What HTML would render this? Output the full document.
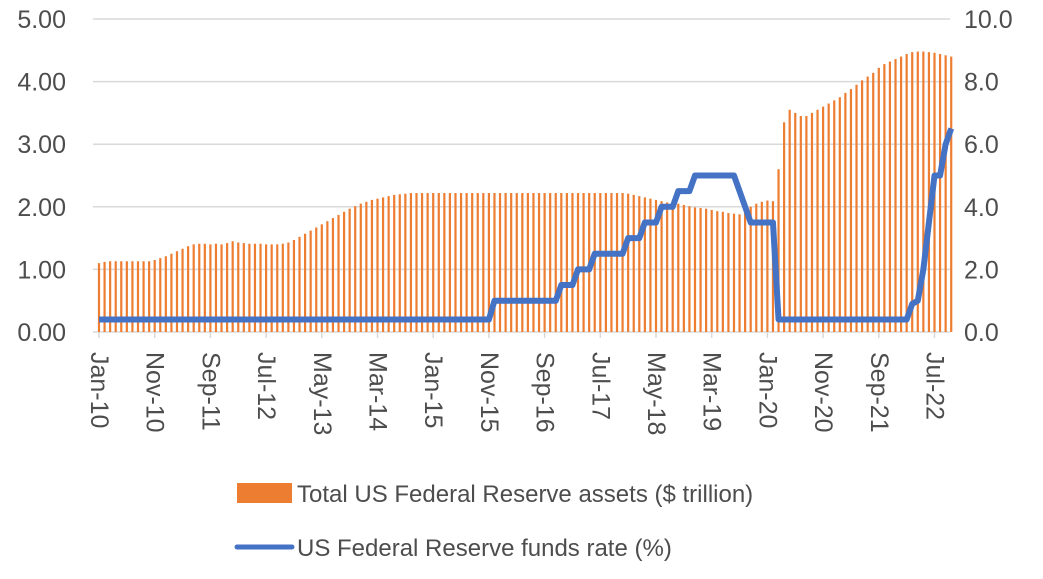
<!DOCTYPE html>
<html><head><meta charset="utf-8"><style>
body{margin:0;background:#fff;}
svg text{font-family:"Liberation Sans",sans-serif;fill:#4d4d4d;}
</style></head><body>
<svg id="chart" width="1043" height="574" viewBox="0 0 1043 574" xmlns="http://www.w3.org/2000/svg">
<g id="grid"></g><g id="bars"></g><g id="line"></g><g id="axes"></g>
<g>
<rect x="237" y="483" width="55" height="20" fill="#ED7D31"/>
<text x="297" y="502" font-size="24">Total US Federal Reserve assets ($ trillion)</text>
<line x1="237" y1="547" x2="292" y2="547" stroke="#4472C4" stroke-width="5" stroke-linecap="round"/>
<text x="297" y="556" font-size="24">US Federal Reserve funds rate (%)</text>
</g>
</svg>
<script>
const assets=[1.10,1.12,1.13,1.13,1.13,1.13,1.13,1.13,1.13,1.13,1.15,1.18,
1.21,1.25,1.29,1.33,1.37,1.40,1.41,1.41,1.40,1.41,1.40,1.42,
1.45,1.43,1.42,1.41,1.41,1.41,1.40,1.40,1.40,1.41,1.43,1.47,
1.52,1.57,1.62,1.67,1.72,1.77,1.82,1.87,1.92,1.97,2.01,2.05,
2.08,2.11,2.13,2.15,2.17,2.19,2.20,2.21,2.22,2.22,2.22,2.22,
2.22,2.22,2.22,2.22,2.22,2.22,2.22,2.22,2.22,2.22,2.22,2.22,
2.22,2.22,2.22,2.22,2.22,2.22,2.22,2.22,2.22,2.22,2.22,2.22,
2.22,2.22,2.22,2.22,2.22,2.22,2.22,2.22,2.22,2.22,2.22,2.21,
2.19,2.17,2.15,2.13,2.11,2.09,2.07,2.06,2.05,2.03,2.01,1.99,
1.98,1.97,1.95,1.93,1.92,1.90,1.89,1.88,1.93,2.00,2.05,2.08,
2.10,2.09,2.60,3.35,3.55,3.50,3.45,3.45,3.50,3.55,3.60,3.65,
3.70,3.75,3.82,3.88,3.95,4.02,4.08,4.14,4.22,4.28,4.32,4.36,
4.40,4.44,4.47,4.48,4.48,4.47,4.46,4.44,4.42,4.40];
const rateSteps=[[0,0.4],[71,1.0],[83,1.5],[86,2.0],[89,2.5],[95,3.0],[98,3.5],[101,4.0],[104,4.5],[107,5.0],[115,4.5],[116,4.0],[117,3.5],[122,0.4],[146,0.9],[147,1.0],[148,2.0],[149,3.5],[150,5.0],[152,6.0],[153,6.5]];
const xLabels=["Jan-10","Nov-10","Sep-11","Jul-12","May-13","Mar-14","Jan-15","Nov-15","Sep-16","Jul-17","May-18","Mar-19","Jan-20","Nov-20","Sep-21","Jul-22"];
const leftTicks=["0.00","1.00","2.00","3.00","4.00","5.00"];
const rightTicks=["0.0","2.0","4.0","6.0","8.0","10.0"];
const rate=[];
let cur=0;for(let i=0;i<assets.length;i++){for(const s of rateSteps){if(s[0]===i)cur=s[1];}rate.push(cur);}
const NS="http://www.w3.org/2000/svg";
const x0=99,step=5.57,yb=332,yt=19;
const xs=i=>x0+i*step;
const yL=v=>yb-(v/5)*(yb-yt);
const yR=v=>yb-(v/10)*(yb-yt);
function mk(t,a,p){const e=document.createElementNS(NS,t);for(const k in a)e.setAttribute(k,a[k]);document.getElementById(p).appendChild(e);return e;}
leftTicks.forEach((t,i)=>{const y=yL(i);
const g=mk('line',{x1:93,x2:950,y1:y,y2:y,stroke:'#d9d9d9','stroke-width':1.5},'grid');


const a=mk('text',{x:66,y:y+9,'font-size':25,'text-anchor':'end'},'axes');a.textContent=t;


const b=mk('text',{x:964,y:y+9,'font-size':25},'axes');b.textContent=rightTicks[i];

});
assets.forEach((v,i)=>{const r=mk('rect',{x:xs(i)-1.1,y:yL(v),width:2.2,height:yb-yL(v),fill:'#ED7D31'},'bars');

});
const pl=mk('polyline',{points:rate.map((v,i)=>xs(i)+','+yR(v)).join(' '),fill:'none',stroke:'#4472C4','stroke-width':6,'stroke-linejoin':'round'},'line');


xLabels.forEach((t,k)=>{const x=xs(k*10);
const tk=mk('line',{x1:x,x2:x,y1:yb,y2:yb+6,stroke:'#d9d9d9','stroke-width':1.5},'axes');


const e=mk('text',{x:0,y:0,'font-size':25,transform:`translate(${x-8},352) rotate(90)`},'axes');e.textContent=t;

});
</script>
</body></html>
